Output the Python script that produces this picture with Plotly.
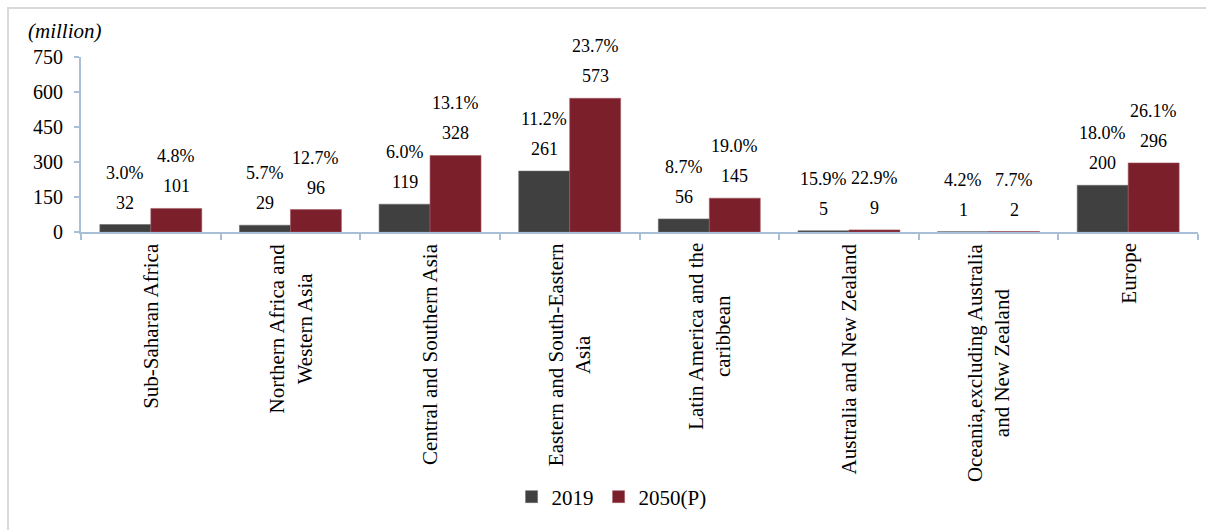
import plotly.graph_objects as go

# Regional population aged 65+ (million) and share of total population
regions = [
    "Sub-Saharan Africa",
    "Northern Africa and<br>Western Asia",
    "Central and Southern Asia",
    "Eastern and South-Eastern<br>Asia",
    "Latin America and the<br>caribbean",
    "Australia and New Zealand",
    "Oceania,excluding Australia<br>and New Zealand",
    "Europe",
]
pop_2019 = [32, 29, 119, 261, 56, 5, 1, 200]
pop_2050 = [101, 96, 328, 573, 145, 9, 2, 296]
share_2019 = ["3.0%", "5.7%", "6.0%", "11.2%", "8.7%", "15.9%", "4.2%", "18.0%"]
share_2050 = ["4.8%", "12.7%", "13.1%", "23.7%", "19.0%", "22.9%", "7.7%", "26.1%"]
y_ticks = [0, 150, 300, 450, 600, 750]

FONT = "Liberation Serif"
DARK = "#404040"
RED = "#7B1F2B"
AXIS = "#A9BFD8"

W, H = 1206, 530
M_L, M_R, M_T, M_B = 81, 8, 57, 298
plot_w = W - M_L - M_R
plot_h = H - M_T - M_B

fig = go.Figure()
fig.add_trace(go.Bar(
    x=regions, y=pop_2019, name="2019",
    marker=dict(color=DARK, line=dict(color="#6a6a6a", width=0.6)),
))
fig.add_trace(go.Bar(
    x=regions, y=pop_2050, name="2050(P)",
    marker=dict(color=RED, line=dict(color="#a05a63", width=0.6)),
))

# Value and share labels above each bar
slot = plot_w / len(regions)
bar_w = slot * (1 - 0.27) / 2
annotations = []
for vals, shares, side in ((pop_2019, share_2019, -1), (pop_2050, share_2050, 1)):
    for reg, v, s in zip(regions, vals, shares):
        annotations.append(dict(
            x=reg, y=v, xref="x", yref="y", text=str(v), showarrow=False,
            xshift=side * bar_w / 2, yshift=22, yanchor="middle",
            font=dict(family=FONT, size=18, color="#000"),
        ))
        annotations.append(dict(
            x=reg, y=v, xref="x", yref="y", text=s, showarrow=False,
            xshift=side * bar_w / 2, yshift=52, yanchor="middle",
            font=dict(family=FONT, size=18, color="#000"),
        ))

# Rotated category names under the axis, lines centred on each other
for reg in regions:
    annotations.append(dict(
        x=reg, y=0, xref="x", yref="y", text=reg, showarrow=False,
        textangle=-90, xanchor="center", yanchor="top", align="center",
        yshift=-9, font=dict(family=FONT, size=21, color="#000"),
    ))

# Unit label
annotations.append(dict(
    x=(26 - M_L) / plot_w, y=(H - M_B - 31) / plot_h, xref="paper", yref="paper",
    text="<i>(million)</i>", showarrow=False, xanchor="left", yanchor="middle",
    font=dict(family=FONT, size=21, color="#000"),
))

fig.update_layout(
    width=W, height=H,
    margin=dict(l=M_L, r=M_R, t=M_T, b=M_B),
    paper_bgcolor="white", plot_bgcolor="white",
    barmode="group", bargap=0.27, bargroupgap=0,
    font=dict(family=FONT, size=18, color="#000"),
    showlegend=True,
    legend=dict(
        orientation="h", x=0.475, xanchor="center",
        y=(H - M_B - 497) / plot_h, yanchor="middle",
        font=dict(family=FONT, size=21, color="#000"),
        itemwidth=30, traceorder="normal",
    ),
    annotations=annotations,
    shapes=[dict(
        type="rect", xref="paper", yref="paper",
        x0=(8 - M_L) / plot_w, x1=(W + 6 - M_L) / plot_w,
        y0=(H - M_B - (H + 6)) / plot_h, y1=(H - M_B - 8) / plot_h,
        line=dict(color="#D9D9D9", width=2), fillcolor="rgba(0,0,0,0)", layer="below",
    )],
)

fig.update_xaxes(
    type="category", tickson="boundaries", showticklabels=False,
    showline=True, linecolor=AXIS, linewidth=2,
    ticks="outside", ticklen=6, tickcolor=AXIS, tickwidth=2,
    showgrid=False, zeroline=False,
)
fig.update_yaxes(
    range=[0, 750], tickvals=y_ticks, ticktext=[str(t) for t in y_ticks],
    showline=True, linecolor=AXIS, linewidth=2,
    ticks="outside", ticklen=5, tickcolor=AXIS, tickwidth=2,
    ticklabelstandoff=7,
    tickfont=dict(family=FONT, size=20, color="#000"),
    showgrid=False, zeroline=False,
)

fig.write_html("out.html")
